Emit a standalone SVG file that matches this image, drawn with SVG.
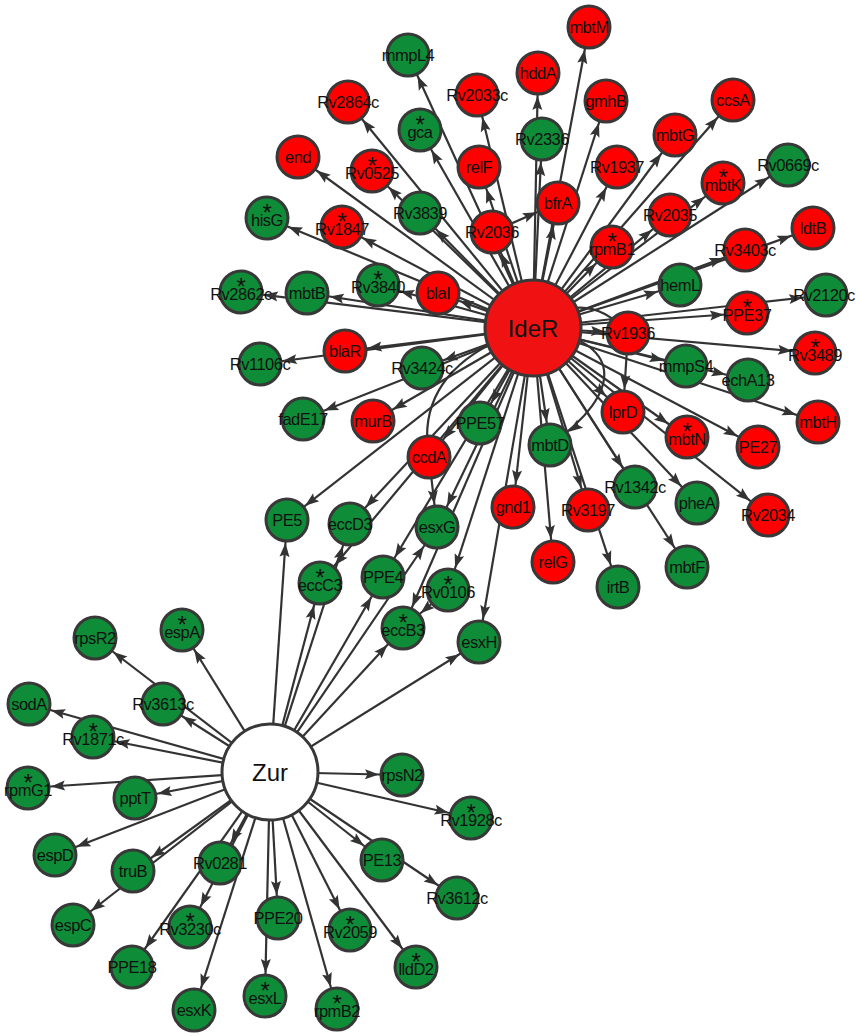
<svg xmlns="http://www.w3.org/2000/svg" width="856" height="1036" viewBox="0 0 856 1036">
<style>
.e line,.e path{stroke:#333;stroke-width:2.2;fill:none}
.e line,.e .m{marker-end:url(#ah)}
.r{fill:#ff0000;stroke:#383838;stroke-width:3}
.g{fill:#0f8c37;stroke:#383838;stroke-width:3}
.t{font-family:"Liberation Sans",Arial,sans-serif;font-size:16.5px;letter-spacing:-0.5px;fill:#111;text-anchor:middle}
.a{font-size:24px}
.h{font-family:"Liberation Sans",Arial,sans-serif;font-size:24px;fill:#111;text-anchor:middle}
</style>
<defs>
<marker id="ah" markerUnits="userSpaceOnUse" markerWidth="14" markerHeight="10" viewBox="0 0 14 10" refX="37" refY="5" orient="auto" overflow="visible">
<path d="M0,0 L14,5 L0,10 L2.5,5 z" fill="#333"/>
</marker>
</defs>
<rect width="856" height="1036" fill="#fff"/>
<g id="connectors" class="e">
<line x1="533" y1="328" x2="408" y2="55"/>
<line x1="533" y1="328" x2="348" y2="102"/>
<line x1="533" y1="328" x2="420" y2="130"/>
<line x1="533" y1="328" x2="298" y2="157"/>
<line x1="533" y1="328" x2="372" y2="171"/>
<line x1="533" y1="328" x2="420" y2="213"/>
<line x1="533" y1="328" x2="267" y2="218"/>
<line x1="533" y1="328" x2="342" y2="227"/>
<line x1="533" y1="328" x2="477" y2="95"/>
<line x1="533" y1="328" x2="479" y2="167"/>
<line x1="533" y1="328" x2="492" y2="232"/>
<line x1="533" y1="328" x2="538" y2="73"/>
<line x1="533" y1="328" x2="542" y2="139"/>
<line x1="533" y1="328" x2="589" y2="27"/>
<line x1="533" y1="328" x2="558" y2="203"/>
<line x1="533" y1="328" x2="606" y2="101"/>
<line x1="533" y1="328" x2="617" y2="167"/>
<line x1="533" y1="328" x2="675" y2="135"/>
<line x1="533" y1="328" x2="733" y2="100"/>
<line x1="533" y1="328" x2="612" y2="247"/>
<line x1="533" y1="328" x2="670" y2="215"/>
<line x1="533" y1="328" x2="723" y2="183"/>
<line x1="533" y1="328" x2="788" y2="165"/>
<line x1="533" y1="328" x2="813" y2="228"/>
<line x1="533" y1="328" x2="745" y2="250"/>
<line x1="533" y1="328" x2="680" y2="285"/>
<line x1="533" y1="328" x2="826" y2="295"/>
<line x1="533" y1="328" x2="747" y2="313"/>
<line x1="533" y1="328" x2="628" y2="333"/>
<line x1="533" y1="328" x2="815" y2="353"/>
<line x1="533" y1="328" x2="686" y2="366"/>
<line x1="533" y1="328" x2="748" y2="380"/>
<line x1="533" y1="328" x2="818" y2="422"/>
<line x1="533" y1="328" x2="623" y2="412"/>
<line x1="533" y1="328" x2="687" y2="437"/>
<line x1="533" y1="328" x2="758" y2="447"/>
<line x1="533" y1="328" x2="768" y2="515"/>
<line x1="533" y1="328" x2="697" y2="503"/>
<line x1="533" y1="328" x2="635" y2="487"/>
<line x1="533" y1="328" x2="687" y2="567"/>
<line x1="533" y1="328" x2="550" y2="445"/>
<line x1="533" y1="328" x2="588" y2="510"/>
<line x1="533" y1="328" x2="618" y2="587"/>
<line x1="533" y1="328" x2="553" y2="562"/>
<line x1="533" y1="328" x2="513" y2="507"/>
<line x1="533" y1="328" x2="480" y2="423"/>
<line x1="533" y1="328" x2="429" y2="457"/>
<line x1="533" y1="328" x2="373" y2="421"/>
<line x1="533" y1="328" x2="422" y2="368"/>
<line x1="533" y1="328" x2="303" y2="419"/>
<line x1="533" y1="328" x2="345" y2="351"/>
<line x1="533" y1="328" x2="260" y2="364"/>
<line x1="533" y1="328" x2="438" y2="293"/>
<line x1="533" y1="328" x2="378" y2="285"/>
<line x1="533" y1="328" x2="307" y2="293"/>
<line x1="533" y1="328" x2="241" y2="292"/>
<line x1="533" y1="328" x2="287" y2="520"/>
<line x1="533" y1="328" x2="350" y2="524"/>
<line x1="533" y1="328" x2="437" y2="527"/>
<line x1="533" y1="328" x2="320" y2="583"/>
<line x1="533" y1="328" x2="383" y2="577"/>
<line x1="533" y1="328" x2="448" y2="590"/>
<line x1="533" y1="328" x2="403" y2="628"/>
<line x1="533" y1="328" x2="479" y2="642"/>
<path d="M533,328 Q585,285 628,333"/>
<path class="m" d="M533,328 C625,340 625,392 550,445"/>
<path d="M533,328 C455,350 418,395 429,457"/>
<line x1="492" y1="232" x2="558" y2="203"/>
<line x1="628" y1="333" x2="623" y2="412"/>
<line x1="429" y1="457" x2="437" y2="527"/>
<line x1="448" y1="590" x2="403" y2="628"/>
<line x1="270" y1="772" x2="182" y2="630"/>
<line x1="270" y1="772" x2="95" y2="638"/>
<line x1="270" y1="772" x2="163" y2="704"/>
<line x1="270" y1="772" x2="29" y2="704"/>
<line x1="270" y1="772" x2="93" y2="737"/>
<line x1="270" y1="772" x2="28" y2="788"/>
<line x1="270" y1="772" x2="135" y2="798"/>
<line x1="270" y1="772" x2="55" y2="855"/>
<line x1="270" y1="772" x2="133" y2="871"/>
<line x1="270" y1="772" x2="73" y2="925"/>
<line x1="270" y1="772" x2="220" y2="863"/>
<line x1="270" y1="772" x2="190" y2="927"/>
<line x1="270" y1="772" x2="132" y2="967"/>
<line x1="270" y1="772" x2="194" y2="1010"/>
<line x1="270" y1="772" x2="278" y2="918"/>
<line x1="270" y1="772" x2="265" y2="996"/>
<line x1="270" y1="772" x2="337" y2="1009"/>
<line x1="270" y1="772" x2="350" y2="930"/>
<line x1="270" y1="772" x2="416" y2="967"/>
<line x1="270" y1="772" x2="382" y2="860"/>
<line x1="270" y1="772" x2="457" y2="898"/>
<line x1="270" y1="772" x2="471" y2="818"/>
<line x1="270" y1="772" x2="402" y2="775"/>
<line x1="270" y1="772" x2="287" y2="520"/>
<line x1="270" y1="772" x2="320" y2="583"/>
<line x1="270" y1="772" x2="350" y2="524"/>
<line x1="270" y1="772" x2="383" y2="577"/>
<line x1="270" y1="772" x2="437" y2="527"/>
<line x1="270" y1="772" x2="403" y2="628"/>
<line x1="270" y1="772" x2="479" y2="642"/>
</g>
<g id="n-IdeR"><circle class="r" cx="533" cy="328" r="48" style="fill:#f01212"/><text class="h" x="533" y="337">IdeR</text></g>
<g id="n-Zur"><circle cx="270" cy="772" r="48" fill="#fff" stroke="#383838" stroke-width="3"/><text class="h" x="270" y="781">Zur</text></g>
<g id="n-mmpL4"><circle class="g" cx="408" cy="55" r="21"/><text class="t" x="408" y="61">mmpL4</text></g>
<g id="n-Rv2864c"><circle class="r" cx="348" cy="102" r="21"/><text class="t" x="348" y="108">Rv2864c</text></g>
<g id="n-gca"><circle class="g" cx="420" cy="130" r="21"/><text class="t"><tspan class="a" x="420" y="133">*</tspan><tspan x="420" y="137.5">gca</tspan></text></g>
<g id="n-end"><circle class="r" cx="298" cy="157" r="21"/><text class="t" x="298" y="163">end</text></g>
<g id="n-Rv0525"><circle class="r" cx="372" cy="171" r="21"/><text class="t"><tspan class="a" x="372" y="174">*</tspan><tspan x="372" y="178.5">Rv0525</tspan></text></g>
<g id="n-Rv3839"><circle class="g" cx="420" cy="213" r="21"/><text class="t" x="420" y="219">Rv3839</text></g>
<g id="n-hisG"><circle class="g" cx="267" cy="218" r="21"/><text class="t"><tspan class="a" x="267" y="221">*</tspan><tspan x="267" y="225.5">hisG</tspan></text></g>
<g id="n-Rv1847"><circle class="r" cx="342" cy="227" r="21"/><text class="t"><tspan class="a" x="342" y="230">*</tspan><tspan x="342" y="234.5">Rv1847</tspan></text></g>
<g id="n-Rv2033c"><circle class="r" cx="477" cy="95" r="21"/><text class="t" x="477" y="101">Rv2033c</text></g>
<g id="n-relF"><circle class="r" cx="479" cy="167" r="21"/><text class="t" x="479" y="173">relF</text></g>
<g id="n-Rv2036"><circle class="r" cx="492" cy="232" r="21"/><text class="t" x="492" y="238">Rv2036</text></g>
<g id="n-hddA"><circle class="r" cx="538" cy="73" r="21"/><text class="t" x="538" y="79">hddA</text></g>
<g id="n-Rv2336"><circle class="g" cx="542" cy="139" r="21"/><text class="t" x="542" y="145">Rv2336</text></g>
<g id="n-mbtM"><circle class="r" cx="589" cy="27" r="21"/><text class="t" x="589" y="33">mbtM</text></g>
<g id="n-bfrA"><circle class="r" cx="558" cy="203" r="21"/><text class="t" x="558" y="209">bfrA</text></g>
<g id="n-gmhB"><circle class="r" cx="606" cy="101" r="21"/><text class="t" x="606" y="107">gmhB</text></g>
<g id="n-Rv1937"><circle class="r" cx="617" cy="167" r="21"/><text class="t" x="617" y="173">Rv1937</text></g>
<g id="n-mbtG"><circle class="r" cx="675" cy="135" r="21"/><text class="t" x="675" y="141">mbtG</text></g>
<g id="n-ccsA"><circle class="r" cx="733" cy="100" r="21"/><text class="t" x="733" y="106">ccsA</text></g>
<g id="n-rpmB1"><circle class="r" cx="612" cy="247" r="21"/><text class="t"><tspan class="a" x="612" y="250">*</tspan><tspan x="612" y="254.5">rpmB1</tspan></text></g>
<g id="n-Rv2035"><circle class="r" cx="670" cy="215" r="21"/><text class="t" x="670" y="221">Rv2035</text></g>
<g id="n-mbtK"><circle class="r" cx="723" cy="183" r="21"/><text class="t"><tspan class="a" x="723" y="186">*</tspan><tspan x="723" y="190.5">mbtK</tspan></text></g>
<g id="n-Rv0669c"><circle class="g" cx="788" cy="165" r="21"/><text class="t" x="788" y="171">Rv0669c</text></g>
<g id="n-ldtB"><circle class="r" cx="813" cy="228" r="21"/><text class="t" x="813" y="234">ldtB</text></g>
<g id="n-Rv3403c"><circle class="r" cx="745" cy="250" r="21"/><text class="t" x="745" y="256">Rv3403c</text></g>
<g id="n-hemL"><circle class="g" cx="680" cy="285" r="21"/><text class="t" x="680" y="291">hemL</text></g>
<g id="n-Rv2120c"><circle class="g" cx="826" cy="295" r="21"/><text class="t" x="824" y="301">Rv2120c</text></g>
<g id="n-PPE37"><circle class="r" cx="747" cy="313" r="21"/><text class="t"><tspan class="a" x="747" y="316">*</tspan><tspan x="747" y="320.5">PPE37</tspan></text></g>
<g id="n-Rv1936"><circle class="r" cx="628" cy="333" r="21"/><text class="t" x="628" y="339">Rv1936</text></g>
<g id="n-Rv3489"><circle class="r" cx="815" cy="353" r="21"/><text class="t"><tspan class="a" x="815" y="356">*</tspan><tspan x="815" y="360.5">Rv3489</tspan></text></g>
<g id="n-mmpS4"><circle class="g" cx="686" cy="366" r="21"/><text class="t" x="686" y="372">mmpS4</text></g>
<g id="n-echA13"><circle class="g" cx="748" cy="380" r="21"/><text class="t" x="748" y="386">echA13</text></g>
<g id="n-mbtH"><circle class="r" cx="818" cy="422" r="21"/><text class="t" x="818" y="428">mbtH</text></g>
<g id="n-lprD"><circle class="r" cx="623" cy="412" r="21"/><text class="t" x="623" y="418">lprD</text></g>
<g id="n-mbtN"><circle class="r" cx="687" cy="437" r="21"/><text class="t"><tspan class="a" x="687" y="440">*</tspan><tspan x="687" y="444.5">mbtN</tspan></text></g>
<g id="n-PE27"><circle class="r" cx="758" cy="447" r="21"/><text class="t" x="758" y="453">PE27</text></g>
<g id="n-Rv2034"><circle class="r" cx="768" cy="515" r="21"/><text class="t" x="768" y="521">Rv2034</text></g>
<g id="n-pheA"><circle class="g" cx="697" cy="503" r="21"/><text class="t" x="697" y="509">pheA</text></g>
<g id="n-Rv1342c"><circle class="g" cx="635" cy="487" r="21"/><text class="t" x="635" y="493">Rv1342c</text></g>
<g id="n-mbtF"><circle class="g" cx="687" cy="567" r="21"/><text class="t" x="687" y="573">mbtF</text></g>
<g id="n-mbtD"><circle class="g" cx="550" cy="445" r="21"/><text class="t" x="550" y="451">mbtD</text></g>
<g id="n-Rv3197"><circle class="r" cx="588" cy="510" r="21"/><text class="t" x="588" y="516">Rv3197</text></g>
<g id="n-irtB"><circle class="g" cx="618" cy="587" r="21"/><text class="t" x="618" y="593">irtB</text></g>
<g id="n-relG"><circle class="r" cx="553" cy="562" r="21"/><text class="t" x="553" y="568">relG</text></g>
<g id="n-gnd1"><circle class="r" cx="513" cy="507" r="21"/><text class="t" x="513" y="513">gnd1</text></g>
<g id="n-PPE57"><circle class="g" cx="480" cy="423" r="21"/><text class="t" x="480" y="429">PPE57</text></g>
<g id="n-ccdA"><circle class="r" cx="429" cy="457" r="21"/><text class="t" x="429" y="463">ccdA</text></g>
<g id="n-murB"><circle class="r" cx="373" cy="421" r="21"/><text class="t" x="373" y="427">murB</text></g>
<g id="n-Rv3424c"><circle class="g" cx="422" cy="368" r="21"/><text class="t" x="422" y="374">Rv3424c</text></g>
<g id="n-fadE17"><circle class="g" cx="303" cy="419" r="21"/><text class="t" x="303" y="425">fadE17</text></g>
<g id="n-blaR"><circle class="r" cx="345" cy="351" r="21"/><text class="t" x="345" y="357">blaR</text></g>
<g id="n-Rv1106c"><circle class="g" cx="260" cy="364" r="21"/><text class="t" x="260" y="370">Rv1106c</text></g>
<g id="n-blaI"><circle class="r" cx="438" cy="293" r="21"/><text class="t" x="438" y="299">blaI</text></g>
<g id="n-Rv3840"><circle class="g" cx="378" cy="285" r="21"/><text class="t"><tspan class="a" x="378" y="288">*</tspan><tspan x="378" y="292.5">Rv3840</tspan></text></g>
<g id="n-mbtB"><circle class="g" cx="307" cy="293" r="21"/><text class="t" x="307" y="299">mbtB</text></g>
<g id="n-Rv2862c"><circle class="g" cx="241" cy="292" r="21"/><text class="t"><tspan class="a" x="241" y="295">*</tspan><tspan x="241" y="299.5">Rv2862c</tspan></text></g>
<g id="n-PE5"><circle class="g" cx="287" cy="520" r="21"/><text class="t" x="287" y="526">PE5</text></g>
<g id="n-eccD3"><circle class="g" cx="350" cy="524" r="21"/><text class="t" x="350" y="530">eccD3</text></g>
<g id="n-esxG"><circle class="g" cx="437" cy="527" r="21"/><text class="t" x="437" y="533">esxG</text></g>
<g id="n-eccC3"><circle class="g" cx="320" cy="583" r="21"/><text class="t"><tspan class="a" x="320" y="586">*</tspan><tspan x="320" y="590.5">eccC3</tspan></text></g>
<g id="n-PPE4"><circle class="g" cx="383" cy="577" r="21"/><text class="t" x="383" y="583">PPE4</text></g>
<g id="n-Rv0106"><circle class="g" cx="448" cy="590" r="21"/><text class="t"><tspan class="a" x="448" y="593">*</tspan><tspan x="448" y="597.5">Rv0106</tspan></text></g>
<g id="n-eccB3"><circle class="g" cx="403" cy="628" r="21"/><text class="t"><tspan class="a" x="403" y="631">*</tspan><tspan x="403" y="635.5">eccB3</tspan></text></g>
<g id="n-esxH"><circle class="g" cx="479" cy="642" r="21"/><text class="t" x="479" y="648">esxH</text></g>
<g id="n-espA"><circle class="g" cx="182" cy="630" r="21"/><text class="t"><tspan class="a" x="182" y="633">*</tspan><tspan x="182" y="637.5">espA</tspan></text></g>
<g id="n-rpsR2"><circle class="g" cx="95" cy="638" r="21"/><text class="t" x="95" y="644">rpsR2</text></g>
<g id="n-Rv3613c"><circle class="g" cx="163" cy="704" r="21"/><text class="t" x="163" y="710">Rv3613c</text></g>
<g id="n-sodA"><circle class="g" cx="29" cy="704" r="21"/><text class="t" x="29" y="710">sodA</text></g>
<g id="n-Rv1871c"><circle class="g" cx="93" cy="737" r="21"/><text class="t"><tspan class="a" x="93" y="740">*</tspan><tspan x="93" y="744.5">Rv1871c</tspan></text></g>
<g id="n-rpmG1"><circle class="g" cx="28" cy="788" r="21"/><text class="t"><tspan class="a" x="28" y="791">*</tspan><tspan x="28" y="795.5">rpmG1</tspan></text></g>
<g id="n-pptT"><circle class="g" cx="135" cy="798" r="21"/><text class="t" x="135" y="804">pptT</text></g>
<g id="n-espD"><circle class="g" cx="55" cy="855" r="21"/><text class="t" x="55" y="861">espD</text></g>
<g id="n-truB"><circle class="g" cx="133" cy="871" r="21"/><text class="t" x="133" y="877">truB</text></g>
<g id="n-espC"><circle class="g" cx="73" cy="925" r="21"/><text class="t" x="73" y="931">espC</text></g>
<g id="n-Rv0281"><circle class="g" cx="220" cy="863" r="21"/><text class="t" x="220" y="869">Rv0281</text></g>
<g id="n-Rv3230c"><circle class="g" cx="190" cy="927" r="21"/><text class="t"><tspan class="a" x="190" y="930">*</tspan><tspan x="190" y="934.5">Rv3230c</tspan></text></g>
<g id="n-PPE18"><circle class="g" cx="132" cy="967" r="21"/><text class="t" x="132" y="973">PPE18</text></g>
<g id="n-esxK"><circle class="g" cx="194" cy="1010" r="21"/><text class="t" x="194" y="1016">esxK</text></g>
<g id="n-PPE20"><circle class="g" cx="278" cy="918" r="21"/><text class="t" x="278" y="924">PPE20</text></g>
<g id="n-esxL"><circle class="g" cx="265" cy="996" r="21"/><text class="t"><tspan class="a" x="265" y="999">*</tspan><tspan x="265" y="1003.5">esxL</tspan></text></g>
<g id="n-rpmB2"><circle class="g" cx="337" cy="1009" r="21"/><text class="t"><tspan class="a" x="337" y="1012">*</tspan><tspan x="337" y="1016.5">rpmB2</tspan></text></g>
<g id="n-Rv2059"><circle class="g" cx="350" cy="930" r="21"/><text class="t"><tspan class="a" x="350" y="933">*</tspan><tspan x="350" y="937.5">Rv2059</tspan></text></g>
<g id="n-lldD2"><circle class="g" cx="416" cy="967" r="21"/><text class="t"><tspan class="a" x="416" y="970">*</tspan><tspan x="416" y="974.5">lldD2</tspan></text></g>
<g id="n-PE13"><circle class="g" cx="382" cy="860" r="21"/><text class="t" x="382" y="866">PE13</text></g>
<g id="n-Rv3612c"><circle class="g" cx="457" cy="898" r="21"/><text class="t" x="457" y="904">Rv3612c</text></g>
<g id="n-Rv1928c"><circle class="g" cx="471" cy="818" r="21"/><text class="t"><tspan class="a" x="471" y="821">*</tspan><tspan x="471" y="825.5">Rv1928c</tspan></text></g>
<g id="n-rpsN2"><circle class="g" cx="402" cy="775" r="21"/><text class="t" x="402" y="781">rpsN2</text></g>
</svg>
